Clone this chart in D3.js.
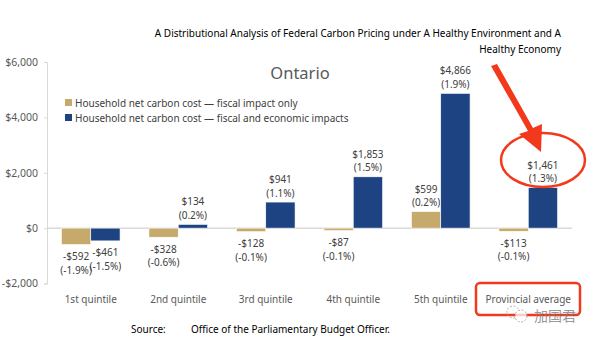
<!DOCTYPE html>
<html>
<head>
<script src="https://d3js.org/d3.v7.min.js" charset="utf-8"></script>
<style>
    body{margin:0;background:#fff;font-family:"Noto Sans",sans-serif;}
</style>
</head>
<body>
<div id="chart"></div>
<script>
    var categories = ["1st quintile","2nd quintile","3rd quintile","4th quintile","5th quintile","Provincial average"]
    var fiscalOnly = [-592,-328,-128,-87,599,-113]
    var fiscalPct = ["(-1.9%)","(-0.6%)","(-0.1%)","(-0.1%)","(0.2%)","(-0.1%)"]
    var fiscalEcon = [-461,134,941,1853,4866,1461]
    var econPct = ["(-1.5%)","(0.2%)","(1.1%)","(1.5%)","(1.9%)","(1.3%)"]
    var seriesNames = ["Household net carbon cost \u2014 fiscal impact only","Household net carbon cost \u2014 fiscal and economic impacts"]
    var yTicks = [-2000,0,2000,4000,6000]

    var tan = "#c5aa6b"
    var blue = "#1d4383"
    var red = "#f2391c"
    var labelColor = "#404040"

    var width = 594, height = 341
    var svg = d3.select("#chart").append("svg")
        .attr("width",width).attr("height",height)

    var x = d3.scaleBand().domain(categories).range([47,572]).paddingInner(0.33).paddingOuter(0.165)
    var y = d3.scaleLinear().domain([-2000,6000]).range([283.5,62])
    var sub = d3.scaleBand().domain([0,1]).range([0,x.bandwidth()])

    // title
    var title = svg.append("text").attr("text-anchor","end").attr("font-size",10).attr("fill","#000")
    title.append("tspan").attr("x",561).attr("y",37).text("A Distributional Analysis of Federal Carbon Pricing under A Healthy Environment and A")
    title.append("tspan").attr("x",561).attr("y",53).text("Healthy Economy")

    // axis
    var yAxis = d3.axisLeft(y).tickValues(yTicks).tickSize(3)
        .tickFormat(function(d){ return (d<0?"-$":"$")+d3.format(",")(Math.abs(d)) })
    var ga = svg.append("g").attr("transform","translate(47,0)").call(yAxis)
    ga.select(".domain").attr("stroke","#d9d9d9")
    ga.selectAll(".tick line").attr("stroke","#d9d9d9")
    ga.selectAll(".tick text").attr("font-size",10.5).attr("fill","#595959")
        .attr("font-family","Noto Sans").attr("x",-9)

    svg.append("line").attr("x1",47).attr("x2",572).attr("y1",y(0)).attr("y2",y(0))
        .attr("stroke","#d9d9d9").attr("stroke-width",1.5)

    svg.append("text").attr("x",300).attr("y",79).attr("text-anchor","middle")
        .attr("font-size",16.5).attr("fill","#595959").text("Ontario")

    // legend
    var leg = svg.append("g")
    leg.selectAll("rect").data([tan,blue]).enter().append("rect")
        .attr("x",65).attr("y",function(d,i){return 99+i*15}).attr("width",7).attr("height",7)
        .attr("fill",function(d){return d})
    leg.selectAll("text").data(seriesNames).enter().append("text")
        .attr("x",75).attr("y",function(d,i){return 107+i*15})
        .attr("font-size",10).attr("fill",labelColor).text(function(d){return d})

    var series = [
        {vals:fiscalOnly,pcts:fiscalPct,color:tan},
        {vals:fiscalEcon,pcts:econPct,color:blue}
    ]
    series.forEach(function(s,si){
        var g = svg.append("g")
        g.selectAll("rect").data(s.vals).enter().append("rect")
            .attr("x",function(d,i){return x(categories[i])+sub(si)})
            .attr("width",sub.bandwidth())
            .attr("y",function(d){return Math.min(y(d),y(0))})
            .attr("height",function(d){return Math.abs(y(d)-y(0))})
            .attr("fill",s.color).attr("stroke","#fff").attr("stroke-width",0.6)
        g.selectAll("text").data(s.vals).enter().append("text")
            .attr("text-anchor","middle").attr("font-size",10).attr("fill",labelColor)
            .each(function(d,i){
                var cx = x(categories[i])+sub(si)+sub.bandwidth()/2
                var t = d3.select(this)
                var money = (d<0?"-$":"$")+d3.format(",")(Math.abs(d))
                var y1 = d<0 ? y(d)+15.5 : y(d)-19
                t.append("tspan").attr("x",cx).attr("y",y1).text(money)
                t.append("tspan").attr("x",cx).attr("y",y1+13.5).text(s.pcts[i])
            })
    })

    // category labels
    svg.selectAll(".cat").data(categories).enter().append("text")
        .attr("x",function(d){return x(d)+x.bandwidth()/2}).attr("y",303)
        .attr("text-anchor","middle").attr("font-size",10).attr("fill","#595959")
        .text(function(d){return d})

    // source
    svg.append("text").attr("x",131).attr("y",333).attr("font-size",10).attr("fill","#000").text("Source:")
    svg.append("text").attr("x",191).attr("y",333).attr("font-size",10).attr("fill","#000").text("Office of the Parliamentary Budget Officer.")

    // red annotations
    var ann = svg.append("g")
    ann.append("path").attr("d","M491,66 L497,64 L533,128 L542,124 L541,152 L519,134 L528,131 Z").attr("fill",red)
    ann.append("ellipse").attr("cx",543).attr("cy",160).attr("rx",42).attr("ry",27)
        .attr("fill","none").attr("stroke",red).attr("stroke-width",2.5)
    ann.append("rect").attr("x",476).attr("y",283).attr("width",104).attr("height",32).attr("rx",4)
        .attr("fill","none").attr("stroke",red).attr("stroke-width",2.5)

    // watermark
    var wm = svg.append("g").attr("opacity",0.75)
    wm.append("circle").attr("cx",513).attr("cy",312).attr("r",6).attr("fill","none").attr("stroke","#999").attr("stroke-dasharray","2,1.5")
    wm.append("circle").attr("cx",521).attr("cy",316).attr("r",6).attr("fill","#fff").attr("stroke","#999").attr("stroke-dasharray","2,1.5")
    wm.append("text").attr("x",534).attr("y",321).attr("font-size",14).attr("fill","#777")
        .attr("font-family","Noto Sans CJK SC").text("加国君")
</script>
</body>
</html>
